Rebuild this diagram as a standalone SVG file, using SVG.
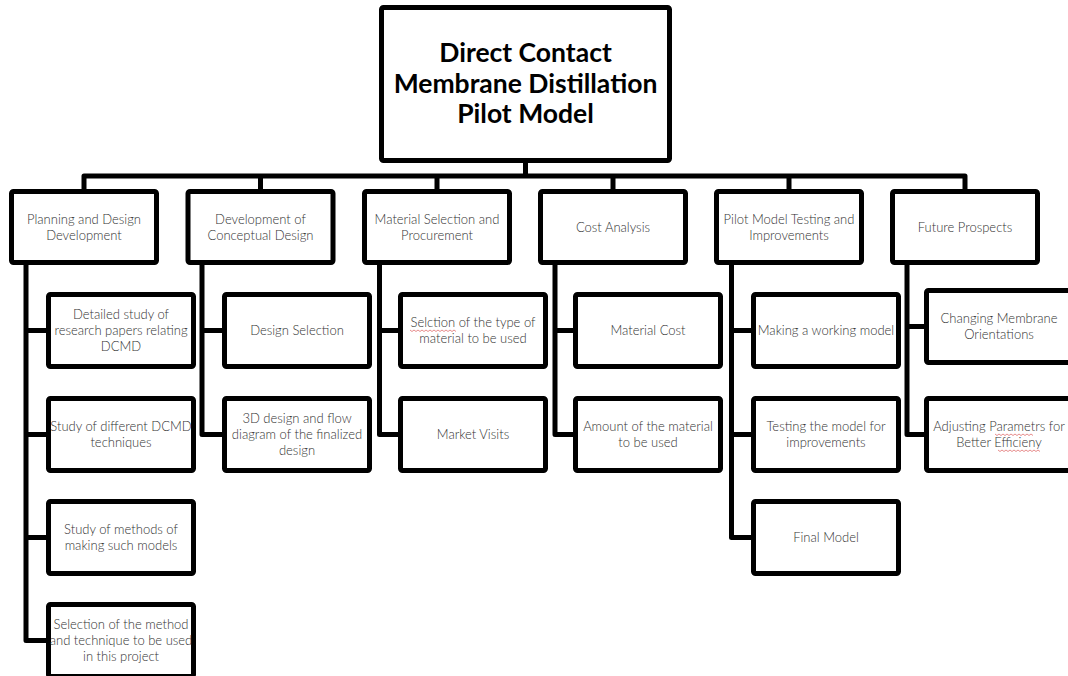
<svg xmlns="http://www.w3.org/2000/svg" width="1068" height="676" viewBox="0 0 1068 676">
<style>
.box{fill:#fff;stroke:#000;stroke-width:5;stroke-linejoin:round}
.conn{fill:none;stroke:#000;stroke-width:5;stroke-linejoin:round;stroke-linecap:butt}
.t{font-family:Lato,"Open Sans","Liberation Sans",sans-serif;font-size:13px;font-weight:300;fill:#333;text-anchor:middle}
.title{font-family:Lato,"Open Sans","Liberation Sans",sans-serif;font-size:26.5px;font-weight:700;fill:#000;text-anchor:middle}
.sp{fill:none;stroke:#e07070;stroke-width:0.8}
</style>
<rect width="1068" height="676" fill="#fff"/>
<g id="connectors">
<path class="conn" d="M525.5 160.5V176M84 191.5V176H965V191.5M260.5 176V191.5M437 176V191.5M613 176V191.5M789 176V191.5"/>
<path class="conn" d="M26 265V640.5H48.5M26 330.5H48.5M26 434.5H48.5M26 537.5H48.5"/>
<path class="conn" d="M202 265V434.5H224.5M202 330.5H224.5"/>
<path class="conn" d="M379.5 265V434.5H400.5M379.5 330.5H400.5"/>
<path class="conn" d="M555 265V434.5H575.5M555 330.5H575.5"/>
<path class="conn" d="M731.5 265V537.5H753.5M731.5 330.5H753.5M731.5 434.5H753.5"/>
<path class="conn" d="M907 265V434.5H926.5M907 326.5H926.5"/>
</g>
<g id="root"><rect class="box" x="381.5" y="7.5" width="288" height="153" rx="2"/>
<text class="title" x="525.5" y="62">Direct Contact</text>
<text class="title" x="525.5" y="93">Membrane Distillation</text>
<text class="title" x="525.5" y="123">Pilot Model</text></g>
<g id="h1"><rect class="box" x="11.5" y="191.5" width="145" height="71" rx="2"/><text class="t" x="84" y="223.5">Planning and Design</text><text class="t" x="84" y="239.5">Development</text></g>
<g id="h2"><rect class="box" x="188" y="191.5" width="145" height="71" rx="2"/><text class="t" x="260.5" y="223.5">Development of</text><text class="t" x="260.5" y="239.5">Conceptual Design</text></g>
<g id="h3"><rect class="box" x="364.5" y="191.5" width="145" height="71" rx="2"/><text class="t" x="437" y="223.5">Material Selection and</text><text class="t" x="437" y="239.5">Procurement</text></g>
<g id="h4"><rect class="box" x="540.5" y="191.5" width="145" height="71" rx="2"/><text class="t" x="613" y="231.5">Cost Analysis</text></g>
<g id="h5"><rect class="box" x="716.5" y="191.5" width="145" height="71" rx="2"/><text class="t" x="789" y="223.5">Pilot Model Testing and</text><text class="t" x="789" y="239.5">Improvements</text></g>
<g id="h6"><rect class="box" x="892.5" y="191.5" width="145" height="71" rx="2"/><text class="t" x="965" y="231.5">Future Prospects</text></g>

<g id="c1a"><rect class="box" x="48.5" y="294.5" width="145" height="72" rx="2"/><text class="t" x="121" y="319">Detailed study of</text><text class="t" x="121" y="335">research papers relating</text><text class="t" x="121" y="351">DCMD</text></g>
<g id="c1b"><rect class="box" x="48.5" y="398.5" width="145" height="72" rx="2"/><text class="t" x="121" y="431">Study of different DCMD</text><text class="t" x="121" y="447">techniques</text></g>
<g id="c1c"><rect class="box" x="48.5" y="501.5" width="145" height="72" rx="2"/><text class="t" x="121" y="534">Study of methods of</text><text class="t" x="121" y="550">making such models</text></g>
<g id="c1d"><rect class="box" x="48.5" y="604.5" width="145" height="72" rx="2"/><text class="t" x="121" y="629">Selection of the method</text><text class="t" x="121" y="645">and technique to be used</text><text class="t" x="121" y="661">in this project</text></g>

<g id="c2a"><rect class="box" x="224.5" y="294.5" width="145" height="72" rx="2"/><text class="t" x="297" y="335">Design Selection</text></g>
<g id="c2b"><rect class="box" x="224.5" y="398.5" width="145" height="72" rx="2"/><text class="t" x="297" y="423">3D design and flow</text><text class="t" x="297" y="439">diagram of the finalized</text><text class="t" x="297" y="455">design</text></g>

<g id="c3a"><rect class="box" x="400.5" y="294.5" width="145" height="72" rx="2"/><text class="t" x="473" y="327">Selction of the type of</text><text class="t" x="473" y="343">material to be used</text></g>
<g id="c3b"><rect class="box" x="400.5" y="398.5" width="145" height="72" rx="2"/><text class="t" x="473" y="439">Market Visits</text></g>

<g id="c4a"><rect class="box" x="575.5" y="294.5" width="145" height="72" rx="2"/><text class="t" x="648" y="335">Material Cost</text></g>
<g id="c4b"><rect class="box" x="575.5" y="398.5" width="145" height="72" rx="2"/><text class="t" x="648" y="431">Amount of the material</text><text class="t" x="648" y="447">to be used</text></g>

<g id="c5a"><rect class="box" x="753.5" y="294.5" width="145" height="72" rx="2"/><text class="t" x="826" y="335">Making a working model</text></g>
<g id="c5b"><rect class="box" x="753.5" y="398.5" width="145" height="72" rx="2"/><text class="t" x="826" y="431">Testing the model for</text><text class="t" x="826" y="447">improvements</text></g>
<g id="c5c"><rect class="box" x="753.5" y="501.5" width="145" height="72" rx="2"/><text class="t" x="826" y="542">Final Model</text></g>

<g id="c6a"><rect class="box" x="926.5" y="290.5" width="145" height="72" rx="2"/><text class="t" x="999" y="323">Changing Membrane</text><text class="t" x="999" y="339">Orientations</text></g>
<g id="c6b"><rect class="box" x="926.5" y="398.5" width="145" height="72" rx="2"/><text class="t" x="999" y="431">Adjusting Parametrs for</text><text class="t" x="999" y="447">Better Efficieny</text></g>

<g id="spellcheck">
<path class="sp" d="M410 330l2 1.5 2-1.5 2 1.5 2-1.5 2 1.5 2-1.5 2 1.5 2-1.5 2 1.5 2-1.5 2 1.5 2-1.5 2 1.5 2-1.5 2 1.5 2-1.5 2 1.5 2-1.5 2 1.5 2-1.5 2 1.5 2-1.5 2 1.5"/>
<path class="sp" d="M995 434l2 1.5 2-1.5 2 1.5 2-1.5 2 1.5 2-1.5 2 1.5 2-1.5 2 1.5 2-1.5 2 1.5 2-1.5 2 1.5 2-1.5 2 1.5 2-1.5 2 1.5 2-1.5 2 1.5"/>
<path class="sp" d="M998 450l2 1.5 2-1.5 2 1.5 2-1.5 2 1.5 2-1.5 2 1.5 2-1.5 2 1.5 2-1.5 2 1.5 2-1.5 2 1.5 2-1.5 2 1.5 2-1.5 2 1.5 2-1.5 2 1.5 2-1.5 2 1.5"/>
</g>
</svg>
